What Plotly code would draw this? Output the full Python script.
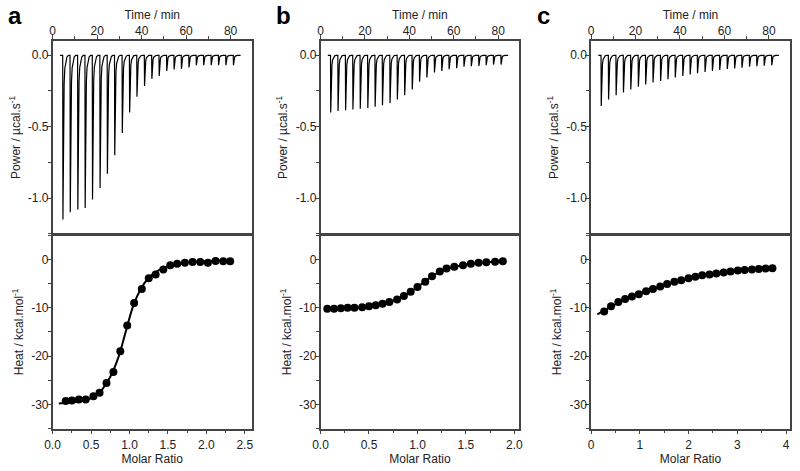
import plotly.graph_objects as go

# ---------------- data ----------------
panel_labels = ["a", "b", "c"]

# injection times (min), same protocol for all three experiments
inj_time = [4.5, 7.8, 11.2, 14.5, 17.8, 21.2, 24.5, 27.8, 31.2, 34.5, 37.8, 41.2,
            44.5, 47.8, 51.2, 54.5, 57.8, 61.2, 64.5, 67.8, 71.2, 74.5, 77.8, 81.2]
trace_start = 3.3
trace_end = 84.5

# peak minima of the raw thermograms (µcal/s)
peak_a = [-1.15, -1.10, -1.08, -1.07, -1.01, -0.93, -0.83, -0.70, -0.545, -0.40, -0.29, -0.215,
          -0.165, -0.145, -0.11, -0.10, -0.095, -0.085, -0.07, -0.07, -0.07, -0.07, -0.07, -0.07]
peak_b = [-0.40, -0.39, -0.385, -0.38, -0.375, -0.37, -0.36, -0.35, -0.335, -0.31, -0.28, -0.24,
          -0.185, -0.155, -0.12, -0.11, -0.097, -0.09, -0.08, -0.077, -0.075, -0.07, -0.065, -0.065]
peak_c = [-0.355, -0.31, -0.28, -0.26, -0.24, -0.22, -0.205, -0.19, -0.18, -0.167, -0.155, -0.145,
          -0.135, -0.126, -0.117, -0.11, -0.103, -0.096, -0.092, -0.087, -0.08, -0.076, -0.073, -0.069]

# integrated heats (kcal/mol) vs molar ratio
ratio_a = [0.17, 0.25, 0.34, 0.43, 0.53, 0.61, 0.70, 0.79, 0.88, 0.97, 1.06, 1.16,
           1.25, 1.34, 1.44, 1.53, 1.62, 1.72, 1.82, 1.92, 2.02, 2.12, 2.22, 2.31]
heat_a = [-29.3, -29.2, -29.0, -29.0, -28.3, -27.6, -25.6, -23.3, -19.0, -13.7, -9.0, -6.1,
          -3.9, -3.1, -2.1, -1.2, -0.9, -0.7, -0.55, -0.55, -0.7, -0.35, -0.4, -0.4]
fit_ratio_a = [0.08, 0.2, 0.4, 0.55, 0.65, 0.75, 0.85, 0.95, 1.05, 1.15, 1.25, 1.35, 1.5, 1.7, 2.0, 2.32]
fit_heat_a = [-29.8, -29.6, -29.2, -28.3, -26.8, -24.3, -20.5, -15.0, -9.5, -6.0, -3.8, -2.5, -1.4, -0.7, -0.4, -0.25]

ratio_b = [0.07, 0.14, 0.21, 0.28, 0.35, 0.43, 0.50, 0.57, 0.64, 0.71, 0.79, 0.86, 0.93,
           1.00, 1.08, 1.15, 1.23, 1.30, 1.38, 1.47, 1.55, 1.63, 1.71, 1.80, 1.88]
heat_b = [-10.2, -10.2, -10.1, -10.0, -10.0, -9.9, -9.7, -9.5, -9.2, -8.8, -8.3, -7.6, -6.7,
          -5.7, -4.6, -3.5, -2.5, -1.9, -1.5, -1.2, -0.9, -0.7, -0.6, -0.5, -0.4]
fit_ratio_b = [0.07, 0.3, 0.5, 0.65, 0.8, 0.9, 1.0, 1.1, 1.2, 1.3, 1.45, 1.6, 1.75, 1.88]
fit_heat_b = [-10.2, -10.05, -9.75, -9.2, -8.2, -7.1, -5.7, -4.2, -2.9, -1.95, -1.25, -0.8, -0.55, -0.4]

ratio_c = [0.27, 0.41, 0.56, 0.70, 0.84, 0.98, 1.13, 1.27, 1.42, 1.56, 1.71, 1.85, 2.00,
           2.14, 2.28, 2.43, 2.57, 2.72, 2.86, 3.01, 3.15, 3.30, 3.44, 3.58, 3.72]
heat_c = [-10.8, -9.7, -8.8, -8.2, -7.7, -7.2, -6.6, -6.1, -5.6, -5.1, -4.6, -4.3, -3.9,
          -3.6, -3.3, -3.1, -2.9, -2.7, -2.5, -2.3, -2.2, -2.1, -2.0, -1.9, -1.85]
fit_ratio_c = [0.13, 0.3, 0.5, 0.8, 1.1, 1.5, 2.0, 2.5, 3.0, 3.5, 3.72]
fit_heat_c = [-11.4, -10.4, -9.3, -7.9, -6.7, -5.3, -4.0, -3.1, -2.4, -1.95, -1.8]

time_ticks = [0, 20, 40, 60, 80]
power_ticks = [0.0, -0.5, -1.0]
power_ticklabels = ["0.0", "-0.5", "-1.0"]
heat_ticks = [0, -10, -20, -30]
heat_ticklabels = ["0", "-10", "-20", "-30"]
ratio_ticks_ab = [0.0, 0.5, 1.0, 1.5, 2.0, 2.5]
ratio_ticklabels_ab = ["0.0", "0.5", "1.0", "1.5", "2.0", "2.5"]
ratio_ticks_c = [0, 1, 2, 3, 4]
ratio_ticklabels_c = ["0", "1", "2", "3", "4"]

# ---------------- styling / layout constants ----------------
# shape of one injection peak: time offsets (min) and fraction of peak depth
PEAK_DT = [-0.05, 0.0, 0.10, 0.22, 0.40, 0.65, 0.95, 1.35, 1.9, 2.6]
PEAK_FRAC = [0.0, 0.0, 1.0, 0.6, 0.33, 0.17, 0.08, 0.035, 0.01, 0.0]

W, H = 800, 471
x_dom_px = [(52.7, 251.7), (320.5, 519.3), (591.0, 790.0)]
y_top_px, y_div_px, y_bot_px = 41.0, 234.5, 428.5
LW = 1.5
ratio_ranges = [[0, 2.59], [0, 2.05], [0, 4.08]]
letter_x_px = [15, 283, 543]

FONT = "Liberation Sans, Arial, sans-serif"
AX_COL = "#444444"
TXT_COL = "#222222"


def thermogram(depths):
    t = [trace_start]
    p = [0.0]
    for t0, d in zip(inj_time, depths):
        for dt, fr in zip(PEAK_DT, PEAK_FRAC):
            t.append(t0 + dt)
            p.append(d * fr)
    t.append(trace_end)
    p.append(0.0)
    return t, p


peaks = [peak_a, peak_b, peak_c]
ratios = [ratio_a, ratio_b, ratio_c]
heats = [heat_a, heat_b, heat_c]
fit_r = [fit_ratio_a, fit_ratio_b, fit_ratio_c]
fit_h = [fit_heat_a, fit_heat_b, fit_heat_c]

fig = go.Figure()

ytop_dom = [(H - (y_div_px - LW / 2)) / H, (H - y_top_px) / H]
ybot_dom = [(H - y_bot_px) / H, (H - (y_div_px + LW / 2)) / H]

common = dict(showline=True, linecolor=AX_COL, linewidth=LW, mirror=True,
              ticks="outside", ticklen=4, tickwidth=1.2, tickcolor=AX_COL,
              showgrid=False, zeroline=False, automargin=False,
              tickfont=dict(family=FONT, size=12, color=TXT_COL))


def minor(dt):
    return dict(tickmode="linear", tick0=0, dtick=dt, ticks="outside",
                ticklen=3, tickcolor=AX_COL, showgrid=False)


annotations = []
for i in range(3):
    kt = 2 * i + 1
    kb = 2 * i + 2
    xs = lambda k: "x" if k == 1 else f"x{k}"
    ys = lambda k: "y" if k == 1 else f"y{k}"
    xd = [x_dom_px[i][0] / W, x_dom_px[i][1] / W]

    t, p = thermogram(peaks[i])
    fig.add_trace(go.Scatter(x=t, y=p, mode="lines", line=dict(color="black", width=1.2),
                             xaxis=xs(kt), yaxis=ys(kt), showlegend=False, hoverinfo="skip"))
    fig.add_trace(go.Scatter(x=fit_r[i], y=fit_h[i], mode="lines",
                             line=dict(color="black", width=2, shape="spline"),
                             xaxis=xs(kb), yaxis=ys(kb), showlegend=False))
    fig.add_trace(go.Scatter(x=ratios[i], y=heats[i], mode="markers",
                             marker=dict(color="black", size=8, line=dict(width=0)),
                             xaxis=xs(kb), yaxis=ys(kb), showlegend=False))

    xname_t = "xaxis" if kt == 1 else f"xaxis{kt}"
    yname_t = "yaxis" if kt == 1 else f"yaxis{kt}"
    xname_b = f"xaxis{kb}"
    yname_b = f"yaxis{kb}"

    fig.layout[xname_t] = dict(common, domain=xd, anchor=ys(kt), side="top", range=[0, 89.5],
                               tickmode="array", tickvals=time_ticks, minor=minor(10),
                               ticklabelstandoff=-5,
                               title=dict(text="Time / min", standoff=2,
                                          font=dict(family=FONT, size=12, color=TXT_COL)))
    fig.layout[yname_t] = dict(common, domain=ytop_dom, anchor=xs(kt), range=[-1.25, 0.1],
                               tickmode="array", tickvals=power_ticks, ticktext=power_ticklabels,
                               minor=minor(0.25), ticklabelstandoff=-4,
                               title=dict(text="Power / µcal.s<sup>-1</sup>", standoff=5,
                                          font=dict(family=FONT, size=12, color=TXT_COL)))
    if i < 2:
        rt, rl, mdt = ratio_ticks_ab, ratio_ticklabels_ab, 0.25
    else:
        rt, rl, mdt = ratio_ticks_c, ratio_ticklabels_c, 0.5
    fig.layout[xname_b] = dict(common, domain=xd, anchor=ys(kb), range=ratio_ranges[i],
                               tickmode="array", tickvals=rt, ticktext=rl, minor=minor(mdt),
                               title=dict(text="Molar Ratio", standoff=2,
                                          font=dict(family=FONT, size=12, color=TXT_COL)))
    fig.layout[yname_b] = dict(common, domain=ybot_dom, anchor=xs(kb), range=[-35, 5],
                               tickmode="array", tickvals=heat_ticks, ticktext=heat_ticklabels,
                               minor=minor(5), ticklabelstandoff=-4,
                               title=dict(text="Heat / kcal.mol<sup>-1</sup>", standoff=5,
                                          font=dict(family=FONT, size=12, color=TXT_COL)))

    annotations.append(dict(text=f"<b>{panel_labels[i]}</b>", x=letter_x_px[i] / W, y=(H - 16) / H,
                            xref="paper", yref="paper", showarrow=False,
                            xanchor="center", yanchor="middle",
                            font=dict(family=FONT, size=24, color="black")))

fig.update_layout(width=W, height=H, margin=dict(l=0, r=0, t=0, b=0, autoexpand=False),
                  paper_bgcolor="white", plot_bgcolor="white",
                  annotations=annotations, showlegend=False,
                  font=dict(family=FONT, size=12, color=TXT_COL))

fig.write_html("out.html", config={"displayModeBar": False},
               post_script="document.body.style.margin='0';document.body.style.padding='0';"
                           "document.body.style.overflow='hidden';")
